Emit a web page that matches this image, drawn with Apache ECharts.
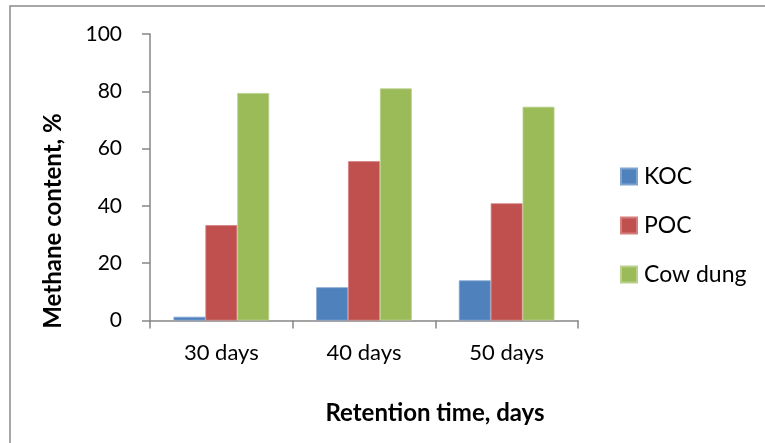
<!DOCTYPE html>
<html>
<head>
<meta charset="utf-8">
<script src="https://cdn.jsdelivr.net/npm/echarts@6/dist/echarts.min.js"></script>
<style>
  html, body { margin: 0; padding: 0; background: #fff; }
  #chart { width: 765px; height: 443px; }
</style>
</head>
<body>
<div id="chart"></div>
<script>
// Methane content of the biogas for each substrate at three retention times
const categories = ['30 days', '40 days', '50 days'];
const seriesNames = ['KOC', 'POC', 'Cow dung'];
const kocValues = [1.3, 11.6, 14.0];
const pocValues = [33.3, 55.6, 40.9];
const cowDungValues = [79.4, 81.0, 74.6];
const yTicks = [0, 20, 40, 60, 80, 100];

const FONT = 'Lato';
const colors = ['#4F81BD', '#C0504D', '#9BBB59'];
const borders = ['#7FA3D0', '#D47F7D', '#B9CF8B'];
const axisColor = '#868686';

const chart = echarts.init(document.getElementById('chart'), null, { renderer: 'canvas' });

const valueSets = [kocValues, pocValues, cowDungValues];

chart.setOption({
  animation: false,
  backgroundColor: '#ffffff',
  color: colors,
  grid: { left: 150, right: 187, top: 34, bottom: 122.5, containLabel: false },
  legend: {
    orient: 'vertical',
    left: 620,
    top: 165,
    padding: 0,
    itemWidth: 16,
    itemHeight: 16,
    itemGap: 26,
    icon: 'rect',
    textStyle: { fontFamily: FONT, fontSize: 23, color: '#000', padding: [0, 0, 0, 2] },
    data: seriesNames
  },
  xAxis: {
    type: 'category',
    data: categories,
    axisLine: { lineStyle: { color: axisColor, width: 1.5 } },
    axisTick: { show: true, length: 8, alignWithLabel: false, lineStyle: { color: axisColor, width: 1.5 } },
    axisLabel: { fontFamily: FONT, fontSize: 22, color: '#000', margin: 21 },
    splitLine: { show: false }
  },
  yAxis: {
    type: 'value',
    min: yTicks[0],
    max: yTicks[yTicks.length - 1],
    interval: yTicks[1] - yTicks[0],
    axisLine: { show: true, lineStyle: { color: axisColor, width: 1.5 } },
    axisTick: { show: true, length: 8, lineStyle: { color: axisColor, width: 1.5 } },
    axisLabel: { fontFamily: FONT, fontSize: 21, color: '#000', margin: 28 },
    splitLine: { show: false }
  },
  series: seriesNames.map((name, i) => ({
    name: name,
    type: 'bar',
    data: valueSets[i],
    barGap: '0%',
    barCategoryGap: '33%',
    itemStyle: { color: colors[i], borderColor: borders[i], borderWidth: 0.8 }
  })),
  graphic: [
    {
      type: 'rect',
      shape: { x: 10, y: 6, width: 800, height: 500 },
      style: { fill: 'none', stroke: '#8a8a8a', lineWidth: 1.5 },
      silent: true
    },
    {
      type: 'text',
      x: 53,
      y: 221,
      rotation: Math.PI / 2,
      style: {
        text: 'Methane content, %',
        fontFamily: FONT,
        fontWeight: 'bold',
        fontSize: 24,
        fill: '#000',
        align: 'center',
        verticalAlign: 'middle'
      }
    },
    {
      type: 'text',
      x: 435,
      y: 413,
      style: {
        text: 'Retention time, days',
        fontFamily: FONT,
        fontWeight: 'bold',
        fontSize: 24,
        fill: '#000',
        align: 'center',
        verticalAlign: 'middle'
      }
    }
  ]
});
</script>
</body>
</html>
